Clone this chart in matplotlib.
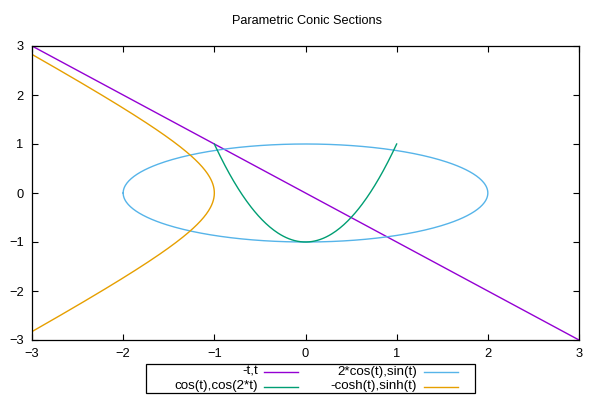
import numpy as np
import matplotlib
matplotlib.use("Agg")
import matplotlib.pyplot as plt
from matplotlib.lines import Line2D
from matplotlib.patches import Rectangle

plt.rcParams['font.family'] = ['Liberation Sans', 'DejaVu Sans']

# parameter values and the four parametric curves (as given in the legend)
t = np.linspace(-np.pi, np.pi, 400)
t_half = np.linspace(0, np.pi, 200)
t_line = np.linspace(-3, 3, 2)
labels = ['-t,t', '2*cos(t),sin(t)', 'cos(t),cos(2*t)', '-cosh(t),sinh(t)']
colors = ['#9400d3', '#56b4e9', '#009e73', '#e69f00']
ticks = [-3, -2, -1, 0, 1, 2, 3]

curves = [
    (-t_line, t_line),
    (2 * np.cos(t), np.sin(t)),
    (np.cos(t_half), np.cos(2 * t_half)),
    (-np.cosh(t), np.sinh(t)),
]

fig = plt.figure(figsize=(6, 4), dpi=100)
ax = fig.add_axes([32 / 600, 1 - 340 / 400, (579 - 32) / 600, (340 - 46) / 400])

for (x, y), c in zip(curves, colors):
    ax.plot(x, y, color=c, lw=1)

ax.set_xlim(-3, 3)
ax.set_ylim(-3, 3)
ax.set_xticks(ticks)
ax.set_yticks(ticks)
ax.tick_params(direction='in', length=4, width=0.8, top=True, right=True,
               labelsize=9.3, pad=6, colors='black')
for s in ax.spines.values():
    s.set_linewidth(0.9)

fig.text(307 / 600, 1 - 21 / 400, 'Parametric Conic Sections', ha='center', va='center', fontsize=9.2)

# legend box drawn like gnuplot's (right-aligned text, sample after)
box = Rectangle((146 / 600, 1 - 393 / 400), (475 - 146) / 600, (393 - 364) / 400,
                transform=fig.transFigure, fill=False, edgecolor='black', lw=0.9)
fig.add_artist(box)
rows = [371.5, 386.5]
cols = [(258, 264, 298), (417, 424, 458)]
order = [(0, 0), (0, 1), (1, 0), (1, 1)]
for lab, c, (r, k) in zip(labels, colors, order):
    yy = 1 - rows[r] / 400
    tx, l0, l1 = cols[k]
    fig.text(tx / 600, yy, lab, ha='right', va='center', fontsize=9.6)
    fig.add_artist(Line2D([l0 / 600, l1 / 600], [yy, yy], transform=fig.transFigure, color=c, lw=1))

fig.savefig('out.png', dpi=100)
